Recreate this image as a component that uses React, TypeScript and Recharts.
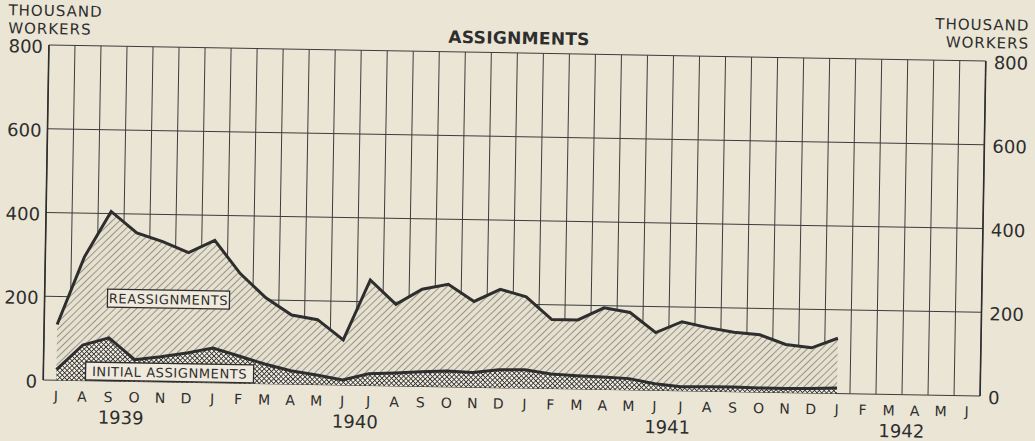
import React from 'react';
import { ComposedChart, Area, Line, XAxis, YAxis, CartesianGrid, ReferenceDot } from 'recharts';

const months = ['J','A','S','O','N','D','J','F','M','A','M','J','J','A','S','O','N','D','J','F','M','A','M','J','J','A','S','O','N','D','J','F','M','A','M','J'];
const years = ['1939', '1940', '1941', '1942'];
const yearCenters = [3, 12, 24, 33];
const yTicks = [0, 200, 400, 600, 800];

// Jul 1939 .. Jan 1942, thousand workers
const initialAssignments = [25, 85, 103, 52, 60, 70, 83, 65, 47, 32, 23, 12, 28, 31, 35, 38, 35, 43, 44, 35, 32, 30, 27, 16, 10, 11, 11, 10, 10, 11, 13];
const reassignments = [108, 210, 302, 303, 275, 240, 257, 197, 158, 133, 132, 96, 224, 164, 197, 207, 170, 192, 174, 130, 133, 165, 158, 122, 155, 141, 131, 127, 105, 97, 119];

const data = initialAssignments.map((v, i) => ({ x: i + 0.5, initial: v, reassign: reassignments[i] }));
const gridTicks = months.map((_, i) => i).concat([months.length]);
const monthTicks = months.map((_, i) => i + 0.5);

const PAPER = '#ebe5d5';
const INK = '#2e2e2e';
const FONT = '"DejaVu Sans", sans-serif';

const LabelBox = (props: any) => {
  const { cx, cy, text, w } = props;
  if (cx == null || cy == null) return null;
  return (
    <g>
      <rect x={cx - w / 2} y={cy - 9} width={w} height={18} fill="#efeadd" stroke={INK} strokeWidth={1.3} />
      <text x={cx} y={cy + 5} textAnchor="middle" fontFamily={FONT} fontSize={13} letterSpacing={0.6} fill={INK}>{text}</text>
    </g>
  );
};

const YTick = (props: any) => {
  const { x, y, payload, textAnchor } = props;
  return (
    <text x={x} y={y + 8} textAnchor={textAnchor} fontFamily={FONT} fontSize={18} fill={INK}>{payload.value}</text>
  );
};

const hidden = { stroke: 'none', dot: false, activeDot: false, legendType: 'none' as const, isAnimationActive: false };

const unitStyle = { fontSize: 15, lineHeight: '17.5px', letterSpacing: 1 };

export default function App() {
  return (
    <div style={{ position: 'absolute', left: 0, top: 0, width: 1035, height: 441, background: PAPER, overflow: 'hidden' }}>
      <div style={{ position: 'absolute', left: 0, top: 0, width: 1035, height: 441, transform: 'rotate(0.98deg)', transformOrigin: '517.5px 220.5px', fontFamily: FONT, color: INK }}>
        <div style={{ position: 'absolute', left: 5, top: 11, ...unitStyle }}>THOUSAND<br />WORKERS</div>
        <div style={{ position: 'absolute', right: 9, top: 9, textAlign: 'right', ...unitStyle }}>THOUSAND<br />WORKERS</div>
        <div style={{ position: 'absolute', left: 416, width: 200, top: 28, fontSize: 17, fontWeight: 'bold', textAlign: 'center', letterSpacing: 0.3 }}>ASSIGNMENTS</div>
        <ComposedChart width={1035} height={441} data={data} margin={{ top: 53, right: 0, bottom: 0, left: 0 }}>
          <defs>
            <pattern id="hatch" patternUnits="userSpaceOnUse" width={5} height={5} patternTransform="rotate(45)">
              <rect width={5} height={5} fill="#e6e0cf" />
              <line x1={0} y1={0} x2={0} y2={5} stroke="#555" strokeWidth={1.1} />
            </pattern>
            <pattern id="cross" patternUnits="userSpaceOnUse" width={3.4} height={3.4} patternTransform="rotate(45)">
              <rect width={3.4} height={3.4} fill="#f0ebdf" />
              <line x1={0} y1={0} x2={0} y2={3.4} stroke="#333" strokeWidth={1.7} />
              <line x1={0} y1={0} x2={3.4} y2={0} stroke="#333" strokeWidth={1.7} />
            </pattern>
          </defs>
          <XAxis xAxisId="grid" type="number" dataKey="x" domain={[0, 36]} ticks={gridTicks} interval={0} hide height={0} />
          <XAxis xAxisId="month" type="number" dataKey="x" domain={[0, 36]} ticks={monthTicks} interval={0}
            tickFormatter={(v: number) => months[Math.floor(v)]} axisLine={false} tickLine={false} tickSize={0} tickMargin={11} height={25}
            tick={{ fontFamily: FONT, fontSize: 14, fill: INK }} />
          <XAxis xAxisId="year" type="number" dataKey="x" domain={[0, 36]} ticks={yearCenters} interval={0}
            tickFormatter={(v: number) => years[yearCenters.indexOf(v)]} axisLine={false} tickLine={false} tickSize={0} tickMargin={5} height={28}
            tick={{ fontFamily: FONT, fontSize: 18, fill: INK }} />
          <YAxis yAxisId="left" domain={[0, 800]} ticks={yTicks} interval={0} width={46} axisLine={{ stroke: INK, strokeWidth: 1.6 }}
            tickLine={false} tickSize={0} tickMargin={6} tick={<YTick />} />
          <YAxis yAxisId="right" orientation="right" domain={[0, 800]} ticks={yTicks} interval={0} width={52} axisLine={{ stroke: INK, strokeWidth: 1.6 }}
            tickLine={false} tickSize={0} tickMargin={8} tick={<YTick />} />
          <CartesianGrid xAxisId="grid" yAxisId="left" stroke="#3c3c3c" strokeWidth={1} />
          <Area xAxisId="grid" yAxisId="left" type="linear" dataKey="initial" stackId="s" fill="url(#cross)" fillOpacity={1} stroke="none" isAnimationActive={false} />
          <Area xAxisId="grid" yAxisId="left" type="linear" dataKey="reassign" stackId="s" fill="url(#hatch)" fillOpacity={1} stroke={INK} strokeWidth={3} isAnimationActive={false} />
          <Line xAxisId="grid" yAxisId="left" type="linear" dataKey="initial" stroke={INK} strokeWidth={3} dot={false} isAnimationActive={false} />
          <Line xAxisId="month" yAxisId="right" type="linear" dataKey="initial" {...hidden} />
          <Line xAxisId="year" yAxisId="right" type="linear" dataKey="initial" {...hidden} />
          <ReferenceDot xAxisId="grid" yAxisId="left" x={4.76} y={198} r={0} shape={(p: any) => <LabelBox {...p} text="REASSIGNMENTS" w={122} />} />
          <ReferenceDot xAxisId="grid" yAxisId="left" x={4.85} y={23} r={0} shape={(p: any) => <LabelBox {...p} text="INITIAL ASSIGNMENTS" w={168} />} />
        </ComposedChart>
      </div>
    </div>
  );
}
